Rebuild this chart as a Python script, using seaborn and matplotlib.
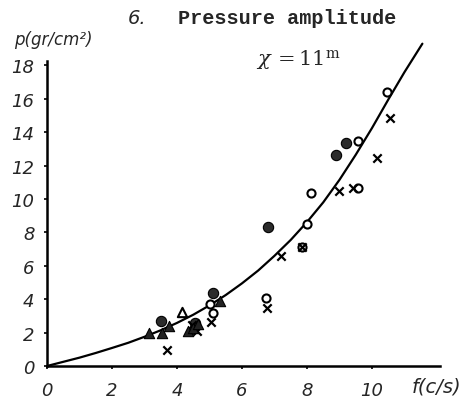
import matplotlib
matplotlib.use("Agg")
import matplotlib.pyplot as plt
import seaborn as sns
import pandas as pd

# ---- data ----
curve_f = [0, 0.5, 1, 1.5, 2, 2.5, 3, 3.5, 4, 4.5, 5, 5.5, 6, 6.5, 7, 7.5,
           8, 8.5, 9, 9.5, 10, 10.5, 11, 11.55]
curve_p = [0, 0.25, 0.5, 0.78, 1.08, 1.39, 1.75, 2.14, 2.58, 3.07, 3.63, 4.25,
           4.95, 5.72, 6.6, 7.55, 8.62, 9.8, 11.15, 12.65, 14.25, 15.95, 17.6, 19.3]

open_f = [10.45, 9.58, 8.12, 9.58, 7.99, 7.86, 6.74, 5.02, 5.12]
open_p = [16.4, 13.45, 10.35, 10.65, 8.5, 7.1, 4.1, 3.7, 3.2]

filled_f = [9.19, 8.88, 6.79, 5.12, 3.51, 4.55]
filled_p = [13.35, 12.65, 8.3, 4.4, 2.7, 2.55]

cross_f = [10.55, 10.14, 8.99, 9.41, 7.86, 7.19, 6.77, 3.68, 4.6, 5.04, 4.45]
cross_p = [14.85, 12.45, 10.45, 10.65, 7.1, 6.6, 3.45, 0.95, 2.1, 2.65, 2.45]

tri_f = [3.15, 3.53, 3.76, 4.35, 4.5, 4.65, 5.32]
tri_p = [2.0, 2.0, 2.4, 2.1, 2.3, 2.5, 3.9]

otri_f = [4.14]
otri_p = [3.25]

xticks = [0, 2, 4, 6, 8, 10]
yticks = [0, 2, 4, 6, 8, 10, 12, 14, 16, 18]

title = "Pressure amplitude"
fig_no = "6."
xlabel = "f(c/s)"
ylabel = "p(gr/cm²)"

# ---- plotting ----
sns.set_theme(style="white")
plt.rcParams["font.family"] = ["DejaVu Sans"]

fig = plt.figure(figsize=(4.76, 4.02), dpi=100)
ax = fig.add_axes([47/476, 35/402, 393/476, 305/402])

curve = pd.DataFrame({"f": curve_f, "p": curve_p})
sns.lineplot(data=curve, x="f", y="p", ax=ax, color="black", lw=1.6,
             sort=False, clip_on=False)

kw = dict(ax=ax, clip_on=False, zorder=3, legend=False)
sns.scatterplot(x=open_f, y=open_p, marker="o", s=34, facecolor="white",
                edgecolor="black", linewidth=1.5, **kw)
sns.scatterplot(x=filled_f, y=filled_p, marker="o", s=55, color="#2b2b2b",
                edgecolor="black", linewidth=0.8, **kw)
sns.scatterplot(x=cross_f, y=cross_p, marker="x", s=36, color="black",
                linewidth=1.6, **kw)
sns.scatterplot(x=tri_f, y=tri_p, marker="^", s=55, color="#222222",
                edgecolor="black", linewidth=0.8, **kw)
sns.scatterplot(x=otri_f, y=otri_p, marker="^", s=45, facecolor="white",
                edgecolor="black", linewidth=1.5, **kw)

ax.set_xlim(0, 393/32.5)
ax.set_ylim(0, 305/16.7)
ax.set_xticks(xticks)
ax.set_yticks(yticks)
ax.set_xticklabels([str(t) for t in xticks], fontsize=13, style="italic")
ax.set_yticklabels([str(t) for t in yticks], fontsize=13, style="italic")
ax.tick_params(axis="both", length=2, width=1.2, color="black", pad=7,
               direction="out", bottom=True, left=True)
ax.tick_params(axis="x", pad=9)
for s in ["top", "right"]:
    ax.spines[s].set_visible(False)
for s in ["left", "bottom"]:
    ax.spines[s].set_color("black")
    ax.spines[s].set_linewidth(1.8)
ax.set_xlabel("")
ax.set_ylabel("")
ax.grid(False)

fig.text(137/476, 1 - 18/402, fig_no, fontsize=14, style="italic",
         ha="center", va="center")
fig.text(287/476, 1 - 19/402, title, fontsize=14.5, fontweight="bold",
         family="Liberation Mono", ha="center", va="center")
fig.text(298/476, 1 - 60/402, r"$\chi\,=11^{\mathrm{m}}$", fontsize=15,
         ha="center", va="center", math_fontfamily="dejavuserif")
fig.text(14/476, 1 - 40/402, ylabel, fontsize=12, style="italic",
         ha="left", va="center")
fig.text(436/476, 1 - 387/402, xlabel, fontsize=14, style="italic",
         ha="center", va="center")

fig.savefig("out.png", dpi=100)
